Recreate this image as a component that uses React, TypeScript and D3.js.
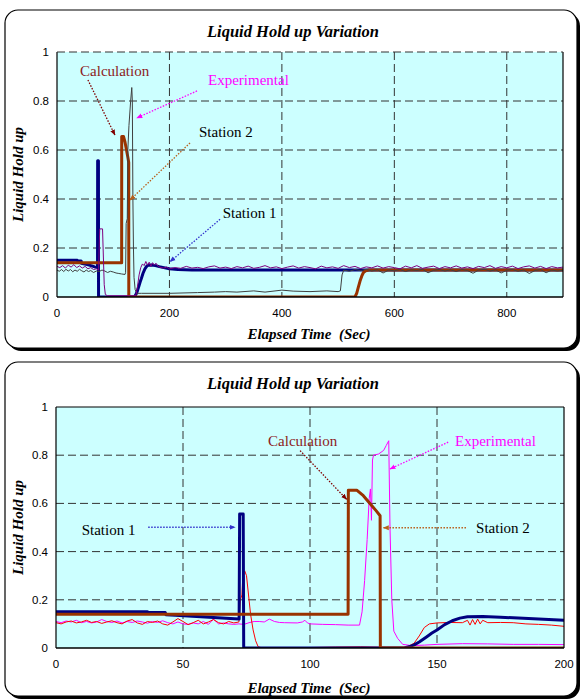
import React from "react";
import * as d3 from "d3";

type Pt = [number, number];

// calculated hold up (shared by both charts)
const calcStation1: Pt[] = [
  [0, 0.15], [36, 0.15], [36.3, 0.148], [43, 0.147], [43.3, 0.138], [47, 0.136], [52, 0.133],
  [57, 0.13], [62, 0.127], [67, 0.123], [72.1, 0.12], [72.3, 0.556], [73.7, 0.556], [73.9, 0],
  [137, 0], [139, 0.005], [141, 0.013], [143, 0.025], [146, 0.047], [148, 0.062], [150, 0.075],
  [153, 0.097], [156, 0.113], [159, 0.124], [162, 0.13], [168, 0.131], [175, 0.128], [182, 0.124],
  [190, 0.12], [200, 0.115], [215, 0.112], [240, 0.11], [900, 0.11],
];

const calcStation2: Pt[] = [
  [0, 0.14], [115, 0.14], [115.1, 0.655], [118.4, 0.655], [121, 0.632], [123.6, 0.6], [126, 0.57],
  [127.6, 0.549], [127.7, 0], [530, 0], [533, 0.015], [536, 0.04], [539, 0.065], [542, 0.085],
  [545, 0.1], [549, 0.107], [555, 0.11], [900, 0.11],
];

// experimental, long run (top chart)
const expTopStation1: Pt[] = [
  [0, 0.125], [5, 0.12], [10, 0.128], [15, 0.118], [20, 0.13], [25, 0.122], [30, 0.132], [35, 0.12],
  [40, 0.127], [45, 0.118], [50, 0.125], [55, 0.115], [60, 0.12], [65, 0.112], [70, 0.115], [74, 0.11],
  [75, 0.2], [76, 0.278], [81, 0.278], [82, 0.2], [84, 0.05], [86, 0.01], [90, 0.005], [140, 0.005],
  [143, 0.04], [146, 0.09], [149, 0.12], [152, 0.135], [155, 0.128], [158, 0.145], [161, 0.13],
  [164, 0.142], [167, 0.125], [170, 0.14], [173, 0.13], [176, 0.138], [180, 0.125], [185, 0.12],
  [190, 0.118], [195, 0.122], [200, 0.115], [210, 0.12], [220, 0.117], [230, 0.125], [240, 0.118],
  [250, 0.121], [260, 0.116], [270, 0.123], [280, 0.127], [290, 0.118], [300, 0.122], [310, 0.116],
  [320, 0.124], [330, 0.119], [340, 0.126], [350, 0.117], [360, 0.121], [370, 0.128], [380, 0.119],
  [390, 0.123], [400, 0.116], [410, 0.122], [420, 0.127], [430, 0.118], [440, 0.124], [450, 0.12],
  [460, 0.115], [470, 0.126], [480, 0.119], [490, 0.123], [500, 0.117], [510, 0.128], [520, 0.12],
  [530, 0.125], [540, 0.116], [550, 0.123], [560, 0.119], [570, 0.127], [580, 0.118], [590, 0.124],
  [600, 0.12], [610, 0.115], [620, 0.126], [630, 0.119], [640, 0.128], [650, 0.117], [660, 0.122],
  [670, 0.126], [680, 0.116], [690, 0.124], [700, 0.119], [710, 0.127], [720, 0.118], [730, 0.123],
  [740, 0.116], [750, 0.125], [760, 0.12], [770, 0.128], [780, 0.117], [790, 0.124], [800, 0.119],
  [810, 0.126], [820, 0.116], [830, 0.123], [840, 0.127], [850, 0.118], [860, 0.125], [870, 0.116],
  [880, 0.124], [890, 0.119], [900, 0.122],
];

const expTopStation2: Pt[] = [
  [0, 0.11], [4, 0.105], [8, 0.112], [12, 0.104], [16, 0.113], [20, 0.106], [24, 0.112], [28, 0.103],
  [32, 0.11], [36, 0.105], [40, 0.113], [44, 0.107], [48, 0.102], [52, 0.11], [56, 0.104], [60, 0.108],
  [65, 0.1], [70, 0.106], [75, 0.104], [80, 0.11], [85, 0.106], [90, 0.1], [95, 0.105], [100, 0.102],
  [105, 0.098], [110, 0.096], [115, 0.094], [121, 0.092], [122, 0.1], [123, 0.3], [125, 0.32],
  [126, 0.6], [128, 0.7], [131, 0.8], [133, 0.855], [134, 0.8], [135, 0.4], [136, 0.2], [137, 0.08],
  [139, 0.03], [142, 0.015], [150, 0.015], [200, 0.015], [250, 0.018], [280, 0.02], [300, 0.022],
  [320, 0.02], [350, 0.025], [370, 0.02], [400, 0.028], [420, 0.024], [450, 0.022], [480, 0.025],
  [500, 0.022], [504, 0.025], [507, 0.09], [510, 0.11], [520, 0.105], [530, 0.112], [540, 0.108],
  [550, 0.113], [560, 0.106], [570, 0.111], [580, 0.098], [590, 0.11], [600, 0.107], [610, 0.112],
  [620, 0.104], [630, 0.111], [640, 0.108], [650, 0.113], [660, 0.099], [670, 0.109], [680, 0.112],
  [690, 0.106], [700, 0.111], [710, 0.104], [720, 0.112], [730, 0.108], [740, 0.097], [750, 0.11],
  [760, 0.113], [770, 0.106], [780, 0.111], [790, 0.098], [800, 0.109], [810, 0.112], [820, 0.105],
  [830, 0.11], [840, 0.096], [850, 0.108], [860, 0.112], [870, 0.099], [880, 0.11], [890, 0.106],
  [900, 0.109],
];

// experimental, first 200 s (bottom chart)
const expBotStation1: Pt[] = [
  [0, 0.105], [2, 0.1], [4, 0.108], [6, 0.112], [8, 0.104], [10, 0.108], [12, 0.115], [14, 0.106],
  [16, 0.11], [18, 0.102], [20, 0.108], [22, 0.113], [24, 0.105], [26, 0.1], [28, 0.112], [30, 0.118],
  [32, 0.104], [34, 0.098], [36, 0.11], [38, 0.106], [40, 0.112], [42, 0.1], [44, 0.095], [46, 0.108],
  [48, 0.122], [50, 0.11], [52, 0.097], [54, 0.105], [56, 0.115], [58, 0.1], [60, 0.108], [62, 0.118],
  [64, 0.105], [66, 0.1], [68, 0.11], [70, 0.104], [72, 0.108], [72.6, 0.2], [73.2, 0.22], [73.6, 0.31],
  [74.3, 0.32], [75, 0.3], [75.8, 0.22], [76.6, 0.14], [77.6, 0.075], [78.6, 0.03], [79.6, 0.005],
  [81, 0.001], [100, 0.002], [110, 0.004], [120, 0.005], [130, 0.003], [138, 0.003], [141, 0.02],
  [143, 0.05], [145, 0.085], [147, 0.1], [150, 0.104], [155, 0.106], [160, 0.105], [162, 0.115],
  [163, 0.095], [164, 0.118], [165, 0.098], [166, 0.12], [167, 0.1], [168, 0.115], [170, 0.105],
  [175, 0.106], [180, 0.105], [185, 0.1], [190, 0.098], [195, 0.095], [200, 0.09],
];

const expBotStation2: Pt[] = [
  [0, 0.11], [2, 0.105], [4, 0.112], [6, 0.108], [8, 0.115], [10, 0.105], [12, 0.11], [14, 0.104],
  [16, 0.108], [18, 0.118], [20, 0.11], [22, 0.106], [24, 0.112], [26, 0.104], [28, 0.11], [30, 0.106],
  [32, 0.112], [34, 0.108], [36, 0.103], [38, 0.11], [40, 0.106], [42, 0.113], [44, 0.105], [46, 0.1],
  [48, 0.108], [50, 0.1], [52, 0.098], [54, 0.104], [56, 0.1], [58, 0.11], [60, 0.098], [62, 0.12],
  [64, 0.1], [66, 0.104], [68, 0.1], [70, 0.098], [72, 0.1], [74, 0.098], [76, 0.105], [78, 0.11],
  [80, 0.11], [82, 0.108], [84, 0.12], [86, 0.11], [88, 0.106], [90, 0.105], [95, 0.104], [97, 0.108],
  [98, 0.115], [99, 0.104], [100, 0.1], [105, 0.098], [110, 0.097], [115, 0.095], [119.5, 0.095],
  [120.5, 0.15], [121.5, 0.28], [122.5, 0.45], [123.3, 0.62], [123.8, 0.66], [124.2, 0.53],
  [124.6, 0.78], [125, 0.8], [127, 0.805], [129, 0.82], [130, 0.84], [131, 0.86], [131.5, 0.5],
  [132.2, 0.2], [133, 0.07], [134.5, 0.04], [136.5, 0.015], [140, 0.01], [145, 0.012], [150, 0.015],
  [160, 0.018], [170, 0.017], [180, 0.015], [190, 0.015], [200, 0.014],
];

const topXTicks = [0, 200, 400, 600, 800];
const botXTicks = [0, 50, 100, 150, 200];
const yTicks = [0, 0.2, 0.4, 0.6, 0.8, 1];
const yGrid = [0.2, 0.4, 0.6, 0.8];

type Note = { text: string; color: string; tx: number; ty: number; arrow: string; a: Pt; b: Pt };

const topNotes: Note[] = [
  { text: "Calculation", color: "#8c1c1c", tx: 41, ty: 0.902, arrow: "#800000", a: [55, 0.886], b: [103, 0.661] },
  { text: "Experimental", color: "#ff00ff", tx: 268.6, ty: 0.865, arrow: "#ff00ff", a: [249, 0.841], b: [142, 0.731] },
  { text: "Station 2", color: "#000000", tx: 252.6, ty: 0.653, arrow: "#b8601c", a: [236.6, 0.629], b: [130, 0.396] },
  { text: "Station 1", color: "#000000", tx: 294.7, ty: 0.324, arrow: "#3333cc", a: [290, 0.317], b: [201, 0.144] },
];

const botNotes: Note[] = [
  { text: "Calculation", color: "#8c1c1c", tx: 83.5, ty: 0.839, arrow: "#800000", a: [96.1, 0.819], b: [114.4, 0.617] },
  { text: "Experimental", color: "#ff00ff", tx: 157.1, ty: 0.839, arrow: "#ff00ff", a: [154.4, 0.854], b: [131.5, 0.743] },
  { text: "Station 2", color: "#000000", tx: 165.4, ty: 0.476, arrow: "#b8601c", a: [161.4, 0.499], b: [128.9, 0.499] },
  { text: "Station 1", color: "#000000", tx: 10.1, ty: 0.469, arrow: "#3333cc", a: [36.3, 0.501], b: [70.5, 0.501] },
];

const serif = "'Liberation Serif', 'Times New Roman', serif";
const sans = "'Liberation Sans', Arial, sans-serif";

type Series = { data: Pt[]; color: string; width: number };

function Chart(props: {
  id: string;
  frame: { x: number; y: number; w: number; h: number };
  plot: { left: number; right: number; top: number; bottom: number };
  xMax: number;
  xTicks: number[];
  series: Series[];
  notes: Note[];
  dashedTop: boolean;
  titleY: number;
  labelY: number;
}) {
  const { id, frame, plot, xMax, xTicks, series, notes, dashedTop, titleY, labelY } = props;
  const x = d3.scaleLinear().domain([0, xMax]).range([plot.left, plot.right]);
  const y = d3.scaleLinear().domain([0, 1]).range([plot.bottom, plot.top]);
  const line = d3.line<Pt>().x((d) => x(d[0])).y((d) => y(d[1]));
  const midY = (plot.top + plot.bottom) / 2;

  return (
    <g>
      <defs>
        <clipPath id={`clip-${id}`}>
          <rect x={plot.left} y={plot.top} width={plot.right - plot.left} height={plot.bottom - plot.top} />
        </clipPath>
        {notes.map((n, i) => (
          <marker key={i} id={`arr-${id}-${i}`} viewBox="0 0 10 10" refX="9" refY="5"
            markerWidth="6" markerHeight="6" orient="auto" markerUnits="userSpaceOnUse">
            <path d="M0,1 L10,5 L0,9 z" fill={n.arrow} />
          </marker>
        ))}
      </defs>
      {/* frame with shadow */}
      <rect x={frame.x + 3} y={frame.y + 3} width={frame.w} height={frame.h} rx={13} fill="#000" />
      <rect x={frame.x} y={frame.y} width={frame.w} height={frame.h} rx={13} fill="#fff" stroke="#000" strokeWidth={1.2} />

      <text x={293} y={titleY} textAnchor="middle" fontFamily={serif} fontSize={16.5}
        fontWeight="bold" fontStyle="italic">Liquid Hold up Variation</text>

      <rect x={plot.left} y={plot.top} width={plot.right - plot.left} height={plot.bottom - plot.top} fill="#ccffff" />

      {yGrid.map((v) => (
        <line key={v} x1={plot.left} x2={plot.right} y1={y(v)} y2={y(v)} stroke="#333" strokeWidth={1} strokeDasharray="8,4" />
      ))}
      {xTicks.filter((t) => t > 0 && t < xMax).map((t) => (
        <line key={t} x1={x(t)} x2={x(t)} y1={plot.top} y2={plot.bottom} stroke="#333" strokeWidth={1} strokeDasharray="8,4" />
      ))}

      <g clipPath={`url(#clip-${id})`}>
        {series.map((s, i) => (
          <path key={i} d={line(s.data) || ""} fill="none" stroke={s.color} strokeWidth={s.width} strokeLinejoin="round" />
        ))}
      </g>

      {/* plot borders */}
      <line x1={plot.left} x2={plot.left} y1={plot.top} y2={plot.bottom} stroke="#000" strokeWidth={1.2} />
      <line x1={plot.right} x2={plot.right} y1={plot.top} y2={plot.bottom} stroke="#000" strokeWidth={1.2} />
      <line x1={plot.left} x2={plot.right} y1={plot.bottom} y2={plot.bottom} stroke="#000" strokeWidth={1.5} />
      {dashedTop ? (
        <line x1={plot.left} x2={plot.right} y1={plot.top} y2={plot.top} stroke="#333" strokeWidth={1.2} strokeDasharray="8,4" />
      ) : (
        <line x1={plot.left} x2={plot.right} y1={plot.top} y2={plot.top} stroke="#000" strokeWidth={1.2} />
      )}

      {yTicks.map((v) => (
        <text key={v} x={plot.left - 8} y={y(v)} dy="0.35em" textAnchor="end" fontFamily={sans} fontSize={11.5}>{v}</text>
      ))}
      {xTicks.map((t) => (
        <text key={t} x={x(t)} y={plot.bottom + 20} textAnchor="middle" fontFamily={sans} fontSize={11.5}>{t}</text>
      ))}

      <text x={309} y={labelY} textAnchor="middle" fontFamily={serif} fontSize={15} fontWeight="bold"
        fontStyle="italic" style={{ whiteSpace: "pre" }}>{"Elapsed Time  (Sec)"}</text>
      <text transform={`translate(23,${midY}) rotate(-90)`} textAnchor="middle" fontFamily={serif} fontSize={15}
        fontWeight="bold" fontStyle="italic">Liquid Hold up</text>

      {notes.map((n, i) => (
        <g key={i}>
          <line x1={x(n.a[0])} y1={y(n.a[1])} x2={x(n.b[0])} y2={y(n.b[1])} stroke={n.arrow} strokeWidth={1.3}
            strokeDasharray="1.5,1.5" markerEnd={`url(#arr-${id}-${i})`} />
          <text x={x(n.tx)} y={y(n.ty)} fill={n.color} fontFamily={serif} fontSize={15}>{n.text}</text>
        </g>
      ))}
    </g>
  );
}

export default function App() {
  return (
    <svg width={581} height={700} style={{ position: "absolute", left: 0, top: 0 }}>
      <Chart
        id="top"
        frame={{ x: 5, y: 10, w: 572, h: 338 }}
        plot={{ left: 57, right: 563, top: 52, bottom: 297 }}
        xMax={900}
        xTicks={topXTicks}
        series={[
          { data: calcStation1, color: "#000080", width: 3 },
          { data: calcStation2, color: "#993300", width: 3 },
          { data: expTopStation2, color: "#404040", width: 1 },
          { data: expTopStation1, color: "#800080", width: 1 },
        ]}
        notes={topNotes}
        dashedTop={true}
        titleY={36.5}
        labelY={339}
      />
      <Chart
        id="bot"
        frame={{ x: 5, y: 362, w: 572, h: 334 }}
        plot={{ left: 56, right: 564, top: 407, bottom: 648 }}
        xMax={200}
        xTicks={botXTicks}
        series={[
          { data: expBotStation2, color: "#ff00ff", width: 1 },
          { data: expBotStation1, color: "#ff0000", width: 1 },
          { data: calcStation1.filter((d) => d[0] <= 240), color: "#000080", width: 3 },
          { data: calcStation2.filter((d) => d[0] <= 530), color: "#993300", width: 3 },
        ]}
        notes={botNotes}
        dashedTop={false}
        titleY={389}
        labelY={692.5}
      />
    </svg>
  );
}
